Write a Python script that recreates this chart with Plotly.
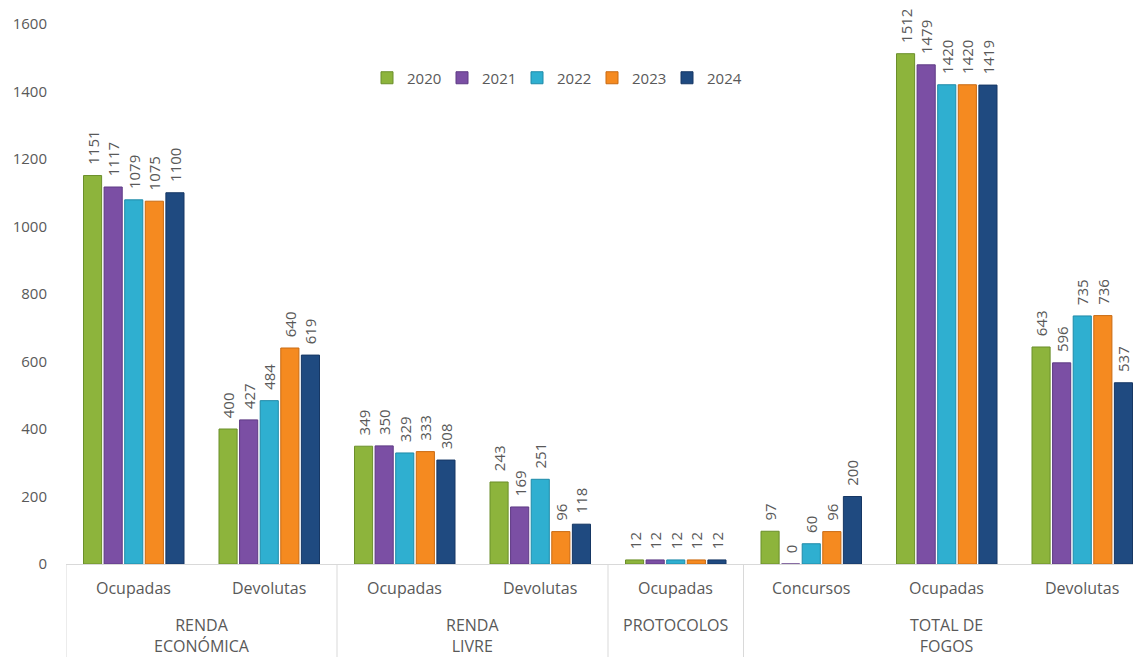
import plotly.graph_objects as go

years = ["2020", "2021", "2022", "2023", "2024"]
subcats = ["Ocupadas", "Devolutas", "Ocupadas", "Devolutas", "Ocupadas",
           "Concursos", "Ocupadas", "Devolutas"]
groups = ["RENDA<br>ECONÓMICA", "RENDA<br>LIVRE", "PROTOCOLOS", "TOTAL DE<br>FOGOS"]
group_spans = [(0, 1), (2, 3), (4, 4), (5, 7)]

v2020 = [1151, 400, 349, 243, 12, 97, 1512, 643]
v2021 = [1117, 427, 350, 169, 12, 0, 1479, 596]
v2022 = [1079, 484, 329, 251, 12, 60, 1420, 735]
v2023 = [1075, 640, 333, 96, 12, 96, 1420, 736]
v2024 = [1100, 619, 308, 118, 12, 200, 1419, 537]
series = [v2020, v2021, v2022, v2023, v2024]

colors = ["#8DB43C", "#7B4FA4", "#2FAFD0", "#F58A20", "#1F4A80"]
edges = ["#6B8F2A", "#5E3A84", "#1F8AA8", "#C96A12", "#163764"]

FONT = "Open Sans"
TXT = "#595959"

# the page body adds an 8px offset; work in window pixels and convert
OFF = 8
WIN_W, WIN_H = 1141, 657
W, H = WIN_W - OFF, WIN_H - OFF
plot_left, plot_top, plot_bottom = 66, 24, 564
ml = plot_left - OFF
mt = plot_top - OFF
mb = H - (plot_bottom - OFF)
ph = H - mt - mb
pw = W - ml
CAT_PX = 135.5


def py(win_y):
    return (plot_bottom - win_y) / ph


def px(win_x):
    return (win_x - plot_left) / pw


fig = go.Figure()
xs = list(range(len(subcats)))
for name, vals, c, e in zip(years, series, colors, edges):
    fig.add_trace(go.Bar(
        x=xs, y=vals, name=name,
        marker=dict(color=c, line=dict(color=e, width=1)),
        text=["\u00a0\u00a0" + str(v) for v in vals], textposition="outside",
        textangle=-90, cliponaxis=False, constraintext="none",
        textfont=dict(family=FONT, size=15, color=TXT),
    ))

annotations = []
for i, s in enumerate(subcats):
    annotations.append(dict(x=i, y=py(588), xref="x", yref="paper", text=s,
                            showarrow=False, yanchor="middle",
                            font=dict(family=FONT, size=16, color=TXT)))
for g, (a, b) in zip(groups, group_spans):
    annotations.append(dict(x=(a + b) / 2, y=py(612), xref="x", yref="paper", text=g,
                            showarrow=False, yanchor="top",
                            font=dict(family=FONT, size=16, color=TXT)))

shapes = []
for xb in [-0.5, 1.5, 3.5, 4.5, 7.5]:
    shapes.append(dict(type="line", xref="x", yref="paper", x0=xb, x1=xb,
                       y0=0, y1=py(WIN_H + 5), line=dict(color="#D9D9D9", width=1)))

fig.update_layout(
    width=W, height=H,
    margin=dict(l=ml, r=0, t=mt, b=mb),
    paper_bgcolor="white", plot_bgcolor="white",
    barmode="group", bargap=0.24, bargroupgap=0.12,
    font=dict(family=FONT, size=15, color=TXT),
    legend=dict(orientation="h", x=px(367), y=py(78),
                xanchor="left", yanchor="middle", bgcolor="rgba(0,0,0,0)",
                font=dict(family=FONT, size=15, color=TXT),
                entrywidth=30, traceorder="normal"),
    xaxis=dict(range=[-0.5, -0.5 + pw / CAT_PX], showticklabels=False,
               showgrid=False, zeroline=False, showline=True,
               linecolor="#D9D9D9", linewidth=1, ticks=""),
    yaxis=dict(range=[0, 1600], dtick=200, showgrid=False, zeroline=False,
               showline=False, ticks="", ticklabelstandoff=18,
               tickfont=dict(family=FONT, size=15, color=TXT)),
    annotations=annotations, shapes=shapes,
)

fig.write_html("out.html")
